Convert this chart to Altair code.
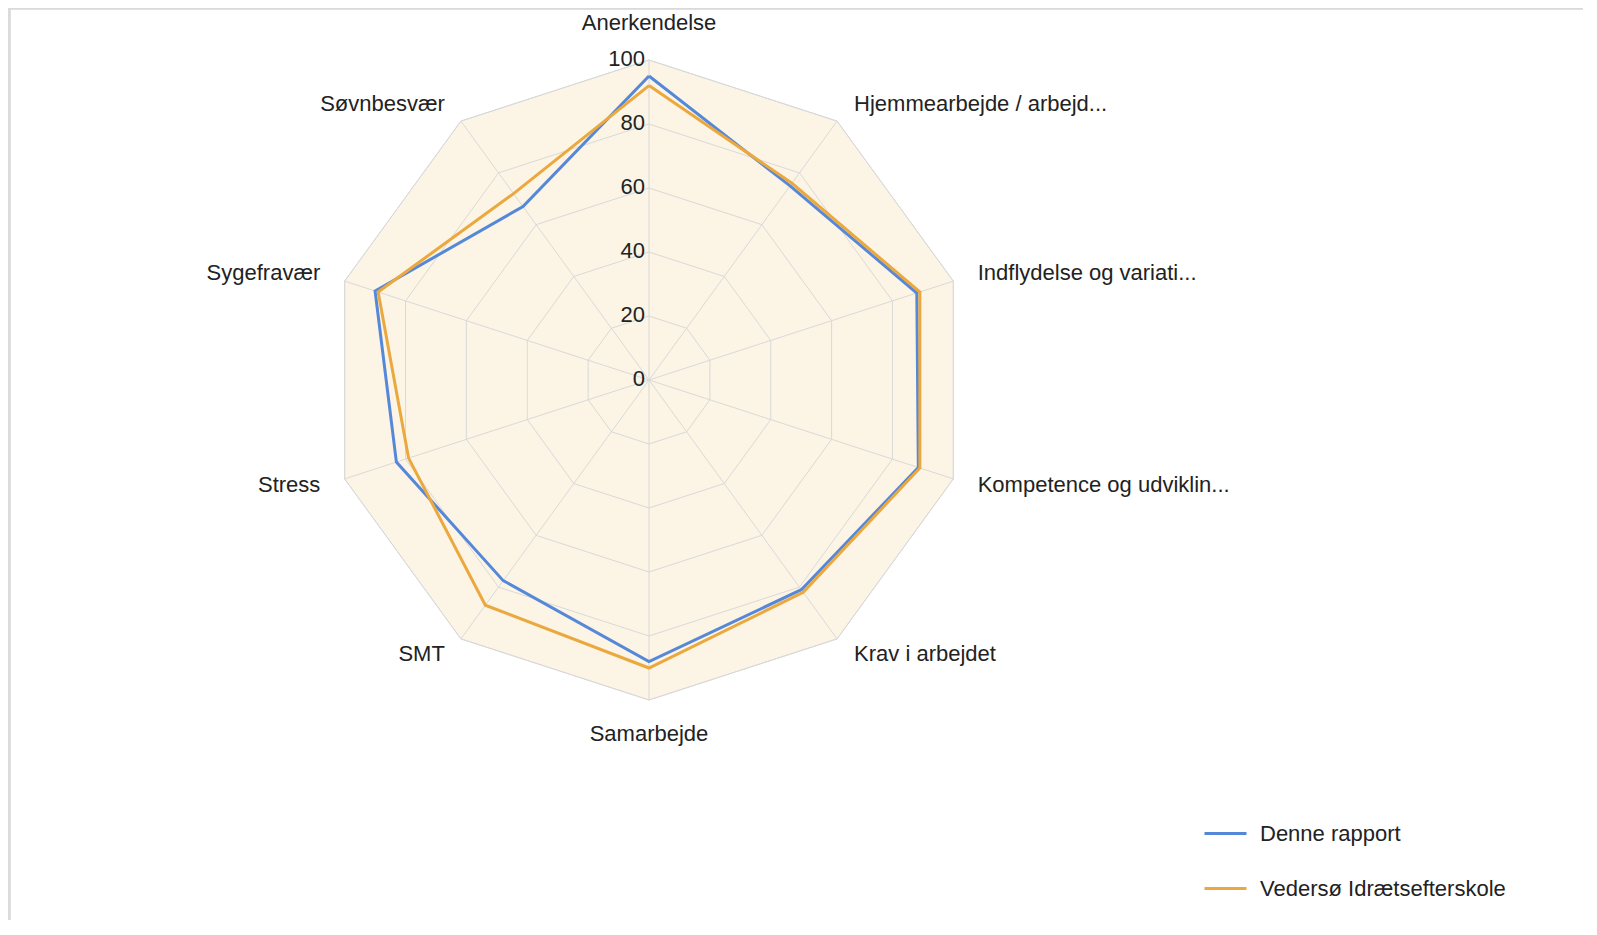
import altair as alt
import pandas as pd

# ---- data ----
categories = [
    "Anerkendelse",
    "Hjemmearbejde / arbejd...",
    "Indflydelse og variati...",
    "Kompetence og udviklin...",
    "Krav i arbejdet",
    "Samarbejde",
    "SMT",
    "Stress",
    "Sygefravær",
    "Søvnbesvær",
]
series_names = ["Denne rapport", "Vedersø Idrætsefterskole"]
denne_rapport = [95, 75, 88, 88.5, 81, 88, 77.5, 83, 90, 67]
vedersoe = [92, 76, 89, 89, 82, 90, 87, 79, 89, 72]
grid_levels = [20, 40, 60, 80, 100]
tick_values = [0, 20, 40, 60, 80, 100]
tick_labels = ["0", "20", "40", "60", "80", "100"]

N = len(categories)

# ---- tables built from the arrays ----
line_rows = []
for name, vals in zip(series_names, [denne_rapport, vedersoe]):
    for i in range(N + 1):
        line_rows.append({"series": name, "idx": i, "value": vals[i % N]})
lines_df = pd.DataFrame(line_rows)

ring_df = pd.DataFrame(
    [{"level": lv, "idx": i, "value": lv} for lv in grid_levels for i in range(N + 1)]
)
spoke_df = pd.DataFrame([{"idx": i, "value": 100} for i in range(N)])
cat_df = pd.DataFrame([{"cat": c, "idx": i} for i, c in enumerate(categories)])
tick_df = pd.DataFrame({"value": tick_values, "label": tick_labels})

# ---- layout ----
W, H = 1575, 912
CX, CY, PX_PER_UNIT = 641, 372, 3.2
xs = alt.Scale(domain=[-CX / PX_PER_UNIT, (W - CX) / PX_PER_UNIT], nice=False, zero=False)
ys = alt.Scale(domain=[-(H - CY) / PX_PER_UNIT, CY / PX_PER_UNIT], nice=False, zero=False)

FONT = "Liberation Sans"
TXT = "#222222"
GRID = "#D9D9D9"
BG = "#FCF4E5"
BLUE = "#5588D8"
ORANGE = "#EBA83E"


def polar(ch):
    return ch.transform_calculate(
        theta="datum.idx * 2 * PI / %d" % N
    ).transform_calculate(
        px="datum.value * sin(datum.theta)",
        py="datum.value * cos(datum.theta)",
    )


def XY():
    return dict(
        x=alt.X("px:Q", scale=xs, axis=None),
        y=alt.Y("py:Q", scale=ys, axis=None),
    )


background = polar(
    alt.Chart(ring_df).transform_filter("datum.level == 100")
).mark_line(fill=BG, stroke=GRID, strokeWidth=1).encode(
    order=alt.Order("idx:Q"), **XY()
)

rings = polar(alt.Chart(ring_df)).mark_line(stroke=GRID, strokeWidth=1).encode(
    detail="level:N", order=alt.Order("idx:Q"), **XY()
)

spokes = polar(alt.Chart(spoke_df)).transform_calculate(zero="0").mark_rule(
    stroke=GRID, strokeWidth=1
).encode(
    x=alt.X("zero:Q", scale=xs, axis=None),
    y=alt.Y("zero:Q", scale=ys, axis=None),
    x2="px:Q",
    y2="py:Q",
)

series_lines = polar(alt.Chart(lines_df)).mark_line(strokeWidth=3).encode(
    color=alt.Color(
        "series:N",
        scale=alt.Scale(domain=series_names, range=[BLUE, ORANGE]),
        sort=series_names,
        legend=alt.Legend(
            title=None,
            orient="none",
            legendX=1195,
            legendY=803,
            symbolType="stroke",
            symbolSize=1764,
            symbolStrokeWidth=3,
            labelFont=FONT,
            labelFontSize=22,
            labelColor=TXT,
            labelOffset=12,
            labelLimit=500,
            rowPadding=21,
        ),
    ),
    order=alt.Order("idx:Q"),
    **XY()
)

ticks = alt.Chart(tick_df).transform_calculate(zero="0").mark_text(
    align="right", baseline="middle", dx=-4, dy=-1, font=FONT, fontSize=22, color=TXT
).encode(
    x=alt.X("zero:Q", scale=xs, axis=None),
    y=alt.Y("value:Q", scale=ys, axis=None),
    text="label:N",
)

# small per-position nudges of the category labels (in radius units)
LABEL_DY = "datum.idx == 0 ? 0.7 : datum.idx == 1 || datum.idx == 9 ? -1 : " \
           "datum.idx == 4 || datum.idx == 6 ? 1.9 : datum.idx == 3 || datum.idx == 7 ? 0.6 : " \
           "datum.idx == 5 ? 0.3 : 0"
LABEL_DX = "datum.idx == 1 || datum.idx == 4 ? 0.6 : datum.idx == 6 || datum.idx == 9 ? -0.3 : 0"


def cat_layer(filter_expr, align):
    base = (
        alt.Chart(cat_df)
        .transform_filter(filter_expr)
        .transform_calculate(value="datum.idx % 5 == 0 ? 111 : 108")
    )
    return polar(base).transform_calculate(
        lx="datum.px + (" + LABEL_DX + ")",
        ly="datum.py + (" + LABEL_DY + ")",
    ).mark_text(
        align=align, baseline="middle", font=FONT, fontSize=22, color=TXT
    ).encode(
        text="cat:N",
        x=alt.X("lx:Q", scale=xs, axis=None),
        y=alt.Y("ly:Q", scale=ys, axis=None),
    )


cats_center = cat_layer("datum.idx % 5 == 0", "center")
cats_right = cat_layer("datum.idx > 0 && datum.idx < 5", "left")
cats_left = cat_layer("datum.idx > 5", "right")

frame_top = alt.Chart(tick_df).mark_rule(stroke=GRID, strokeWidth=1.5).encode(
    x=alt.value(0), x2=alt.value(W), y=alt.value(0.5)
)
frame_left = alt.Chart(tick_df).mark_rule(stroke=GRID, strokeWidth=1.5).encode(
    x=alt.value(1.5), y=alt.value(0), y2=alt.value(H)
)

chart = (
    alt.layer(
        frame_top,
        frame_left,
        background,
        rings,
        spokes,
        series_lines,
        ticks,
        cats_center,
        cats_right,
        cats_left,
    )
    .properties(width=W, height=H, padding=0, autosize=alt.AutoSizeParams(type="none"))
    .configure_view(stroke=None)
    .configure(background="white")
)

chart.save("out.html", embed_options={"renderer": "svg", "actions": False})
